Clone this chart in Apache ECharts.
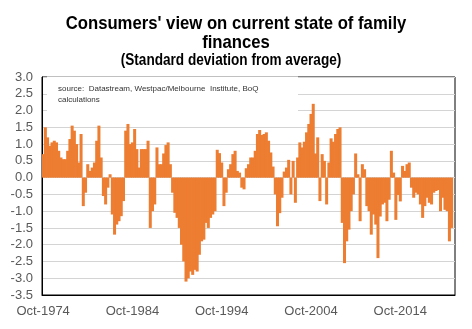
<!DOCTYPE html>
<html><head><meta charset="utf-8">
<script src="https://cdn.jsdelivr.net/npm/echarts/dist/echarts.min.js"></script>
<style>html,body{margin:0;padding:0;background:#fff}#c{width:472px;height:329px}</style>
</head><body><div id="c"></div>
<script>
// Tick labels shown on the category axis
const tickLabels = ['Oct-1974', 'Oct-1984', 'Oct-1994', 'Oct-2004', 'Oct-2014'];
const quarterNames = ['Jan', 'Apr', 'Jul', 'Oct'];

// Quarterly readings (standard deviations from average)
const values1974 = [0.7, 1.5, 1.2, 0.95, 1.05, 1.1, 1.05, 0.8, 0.6, 0.55,
  0.55, 0.8, 1.15, 1.55, 1.4, 1.0, 0.45, 1.3, -0.85, -0.45,
  0.4, 0.2, 0.3, 0.45, 1.1, 1.55, 0.6, -0.55, -0.8, -0.3,
  0.1, -1.1, -1.7, -1.4, -1.3, -1.15, -0.7, 1.4, 1.6, 1.0];
const values1984 = [1.05, 1.45, 0.85, 0.3, 0.85, 0.85, 0.85, 1.1, -1.5, -1.0,
  -0.8, 0.9, 0.4, 0.4, 0.72, 0.97, 1.05, 0.4, -0.45, -1.05,
  -1.2, -1.5, -2.0, -2.5, -3.1, -3.0, -2.8, -2.9, -2.75, -2.8,
  -2.3, -1.9, -1.85, -1.35, -1.5, -1.2, -1.1, -1.0, 0.83, 0.73];
const values1994 = [0.45, -0.85, -0.45, 0.25, 0.4, 0.7, 0.8, 0.2, 0.15, -0.3,
  -0.35, 0.28, 0.4, 0.6, 0.6, 0.8, 1.3, 1.42, 1.27, 1.3,
  1.35, 1.1, 0.75, 0.33, -0.5, -1.45, -1.06, -0.6, 0.18, 0.3,
  0.53, -0.5, 0.5, -0.75, 0.6, 1.05, 0.9, 1.07, 1.35, 1.6];
const values2004 = [1.9, 2.2, 0.72, 1.2, -0.7, 0.7, 0.5, -0.8, 0.45, 1.17,
  1.07, 1.3, 1.45, 1.5, -1.35, -2.55, -1.9, -1.55, -1.0, -0.5,
  0.72, 0.1, -1.3, 0.4, 0.25, -0.85, -1.0, -1.7, -1.1, -1.4,
  -2.4, -1.16, -0.8, -0.75, -1.3, -0.66, 0.8, 0.15, -1.26, -0.52];
const values2014 = [-0.71, 0.35, 0.2, 0.4, 0.45, -0.3, -0.6, -0.45, -0.5, -0.8,
  -1.2, -0.85, -0.6, -0.75, -0.8, -0.45, -0.4, -0.37, -1.0, -0.6,
  -0.96, -1.0, -1.9, -1.5];

const values = [].concat(values1974, values1984, values1994, values2004, values2014);

// Quarterly categories starting Oct-1974 (one extra empty slot at the end)
const categories = [];
for (let i = 0; i <= values.length; i++) {
  const k = 3 + i;
  categories.push(quarterNames[k % 4] + '-' + (1974 + Math.floor(k / 4)));
}

const chart = echarts.init(document.getElementById('c'), null, {renderer: 'canvas'});
const FONT = 'Arial, "Liberation Sans", sans-serif';
chart.setOption({
  animation: false,
  backgroundColor: '#fff',
  grid: {left: 42, right: 17, top: 77, bottom: 34, show: true, borderColor: '#000', borderWidth: 1, backgroundColor: 'transparent'},
  xAxis: {
    type: 'category', data: categories, boundaryGap: true,
    axisLine: {onZero: false, lineStyle: {color: '#000', width: 1}},
    axisTick: {show: false},
    splitLine: {show: false},
    axisLabel: {
      interval: (idx, val) => tickLabels.indexOf(val) >= 0,
      color: '#595959', fontSize: 13, fontFamily: FONT, margin: 10
    }
  },
  yAxis: {
    type: 'value', min: -3.5, max: 3.0, interval: 0.5,
    axisLine: {show: true, lineStyle: {color: '#000', width: 1}},
    axisTick: {show: false},
    splitLine: {show: true, lineStyle: {color: '#d4d4d4', width: 1}},
    axisLabel: {formatter: v => v.toFixed(1), color: '#595959', fontSize: 13, fontFamily: FONT, margin: 9}
  },
  series: [{
    type: 'bar', data: values, barWidth: '135%', barGap: '-100%',
    itemStyle: {color: '#ED7D31'}
  }],
  graphic: [
    {type: 'rect', z: 100, shape: {x: 47, y: 76.5, width: 251, height: 41}, style: {fill: '#fff'}},
    {type: 'text', z: 101, x: 58, y: 89, style: {text: 'source:  Datastream, Westpac/Melbourne  Institute, BoQ', font: '8px ' + FONT, fill: '#333', textVerticalAlign: 'middle'}},
    {type: 'text', z: 101, x: 58, y: 99.5, style: {text: 'calculations', font: '8px ' + FONT, fill: '#333', textVerticalAlign: 'middle'}},
    {type: 'text', z: 101, x: 236, y: 23.5, scaleY: 1.15, style: {text: "Consumers' view on current state of family", font: 'bold 16.7px ' + FONT, fill: '#000', textAlign: 'center', textVerticalAlign: 'middle'}},
    {type: 'text', z: 101, x: 236, y: 42.5, scaleY: 1.15, style: {text: 'finances', font: 'bold 16.7px ' + FONT, fill: '#000', textAlign: 'center', textVerticalAlign: 'middle'}},
    {type: 'text', z: 101, x: 231, y: 61, scaleY: 1.15, style: {text: '(Standard deviation from average)', font: 'bold 13.6px ' + FONT, fill: '#000', textAlign: 'center', textVerticalAlign: 'middle'}}
  ]
});
</script></body></html>
